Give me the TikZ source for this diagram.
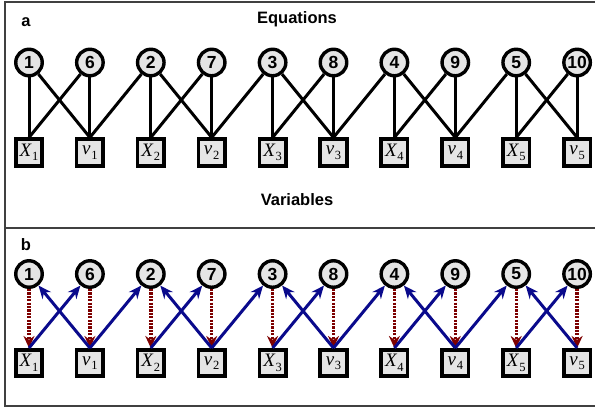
\documentclass[tikz,border=0pt]{standalone}
\usepackage{fontspec}
\setmainfont{Liberation Sans}
\newfontfamily\varfont{Liberation Serif}
\usetikzlibrary{arrows.meta}

\definecolor{solveblue}{RGB}{10,10,140}
\definecolor{assignred}{RGB}{125,0,0}

\tikzset{
  eqn/.style={circle,draw,line width=3.4pt,fill=black!10,minimum size=26.5pt,inner sep=0pt,
    font=\bfseries\fontsize{17.5}{17.5}\selectfont},
  varbox/.style={rectangle,draw,line width=3.6pt,fill=black!10,minimum size=26.5pt,inner sep=0pt},
  link/.style={line width=3pt},
  solve/.style={line width=3pt,draw=solveblue,-{Stealth[length=13pt,width=11pt]}},
  assign/.style={line width=3.4pt,draw=assignred,dash pattern=on 2.2pt off 1.2pt,
    -{Stealth[length=12pt,width=11pt]}},
  panel/.style={font=\bfseries\fontsize{16.5}{16.5}\selectfont}
}
\newcommand{\varlabel}[2]{{\varfont\itshape\fontsize{19}{19}\selectfont #1}\kern0.8pt%
  {\varfont\fontsize{12.5}{12.5}\selectfont\raisebox{-4.5pt}{#2}}}

\begin{document}
\begin{tikzpicture}[x=1pt,y=-1pt]
  \useasboundingbox (0,0) rectangle (595,408);
  % frame and divider between the two panels
  \draw[line width=1.8pt,black!75] (5,2) rectangle (600,406);
  \draw[line width=1.8pt,black!75] (5,228) -- (600,228);

  \node[panel] (lbla) at (26,22) {a};
  \node[panel] (lblb) at (26,245) {b};
  \node[panel] (eqtitle) at (297,19) {Equations};
  \node[panel] (vartitle) at (297,200) {Variables};

  % nodes, same layout in both panels
  \foreach \p/\yq/\yv in {a/62.5/152.5, b/274/363} {
    \foreach \i in {1,...,5} {
      \pgfmathsetmacro\xa{29+121.8*(\i-1)}
      \pgfmathsetmacro\xb{\xa+60.9}
      \pgfmathtruncatemacro\j{\i+5}
      \node[eqn] (q\p\i) at (\xa,\yq) {\i};
      \node[eqn] (q\p\j) at (\xb,\yq) {\j};
      \node[varbox] (X\p\i) at (\xa,\yv) {\varlabel{X}{\i}};
      \node[varbox] (v\p\i) at (\xb,\yv) {\varlabel{v}{\i}};
    }
  }

  % a: incidence graph
  \foreach \i in {1,...,5} {
    \pgfmathtruncatemacro\j{\i+5}
    \draw[link] (qa\i) -- (Xa\i.north);
    \draw[link] (qa\i) -- (va\i.north);
    \draw[link] (qa\j) -- (Xa\i.north);
    \draw[link] (qa\j) -- (va\i.north);
  }
  \foreach \i in {1,...,4} {
    \pgfmathtruncatemacro\k{\i+1}
    \draw[link] (qa\k) -- (va\i.north);
  }

  % b: matching (red) and directed edges (blue)
  \foreach \i in {1,...,5} {
    \pgfmathtruncatemacro\j{\i+5}
    \draw[assign] (qb\i.south) -- (Xb\i.north);
    \draw[assign] (qb\j.south) -- (vb\i.north);
    \draw[solve] (Xb\i.north) -- (qb\j);
    \draw[solve] (vb\i.north) -- (qb\i);
  }
  \foreach \i in {1,...,4} {
    \pgfmathtruncatemacro\k{\i+1}
    \draw[solve] (vb\i.north) -- (qb\k);
  }
\end{tikzpicture}
\end{document}
